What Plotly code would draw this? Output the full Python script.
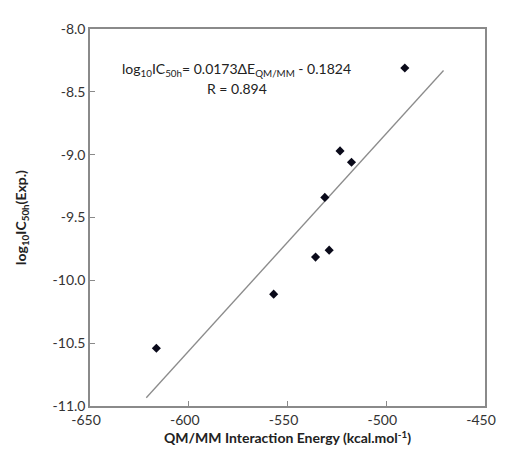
import plotly.graph_objects as go

# Data
energy = [-490.6, -523.4, -517.6, -531.1, -528.9, -535.8, -557.0, -616.4]
log_ic50 = [-8.31, -8.97, -9.06, -9.34, -9.76, -9.815, -10.11, -10.54]

slope = 0.0173
intercept = -0.1824
fit_x = [-621.5, -471.0]
fit_y = [slope * v + intercept for v in fit_x]

x_ticks = [-650, -600, -550, -500, -450]
y_ticks = [-11.0, -10.5, -10.0, -9.5, -9.0, -8.5, -8.0]

font_family = "Lato, Open Sans, sans-serif"
axis_color = "#8a8a8a"

fig = go.Figure()
fig.add_trace(go.Scatter(
    x=fit_x, y=fit_y, mode="lines",
    line=dict(color="#8c8c8c", width=1.3),
    showlegend=False, hoverinfo="skip"))
fig.add_trace(go.Scatter(
    x=energy, y=log_ic50, mode="markers",
    marker=dict(symbol="diamond", size=7, color="#0a0a1a"),
    showlegend=False))

fig.update_layout(
    width=500, height=446,
    margin=dict(l=70, r=15, t=12, b=48),
    paper_bgcolor="white", plot_bgcolor="white",
    font=dict(family=font_family, color="#333333", size=14),
    xaxis=dict(
        range=[-650, -450], tickvals=x_ticks, ticktext=[str(v) for v in x_ticks],
        showgrid=False, zeroline=False, showline=True, linecolor=axis_color,
        linewidth=1.5, mirror=True, ticks="inside", ticklen=5, tickcolor=axis_color,
        tickfont=dict(size=14, color="#333333"), ticklabelshift=-4,
        title=dict(text="<b>QM/MM Interaction Energy (kcal.mol<sup>-1</sup>)</b>",
                   font=dict(size=14, color="#222222"), standoff=2),
    ),
    yaxis=dict(
        range=[-11.0, -8.0], tickvals=y_ticks, ticktext=[f"{v:.1f}" for v in y_ticks],
        showgrid=False, zeroline=False, showline=True, linecolor=axis_color,
        linewidth=1.5, mirror=True, ticks="inside", ticklen=5, tickcolor=axis_color,
        tickfont=dict(size=14, color="#333333"),
        title=dict(text="<b>log<sub>10</sub>IC<sub>50h</sub>(Exp.)</b>",
                   font=dict(size=14, color="#222222"), standoff=23),
    ),
    annotations=[
        dict(text="log<sub>10</sub>IC<sub>50h</sub>= 0.0173ΔE<sub>QM/MM</sub> - 0.1824",
             xref="paper", yref="paper", x=0.372, y=0.893, showarrow=False,
             font=dict(size=14, color="#222222"), xanchor="center", yanchor="middle"),
        dict(text="R = 0.894",
             xref="paper", yref="paper", x=0.372, y=0.842, showarrow=False,
             font=dict(size=14, color="#222222"), xanchor="center", yanchor="middle"),
    ],
)

fig.write_html("out.html")
